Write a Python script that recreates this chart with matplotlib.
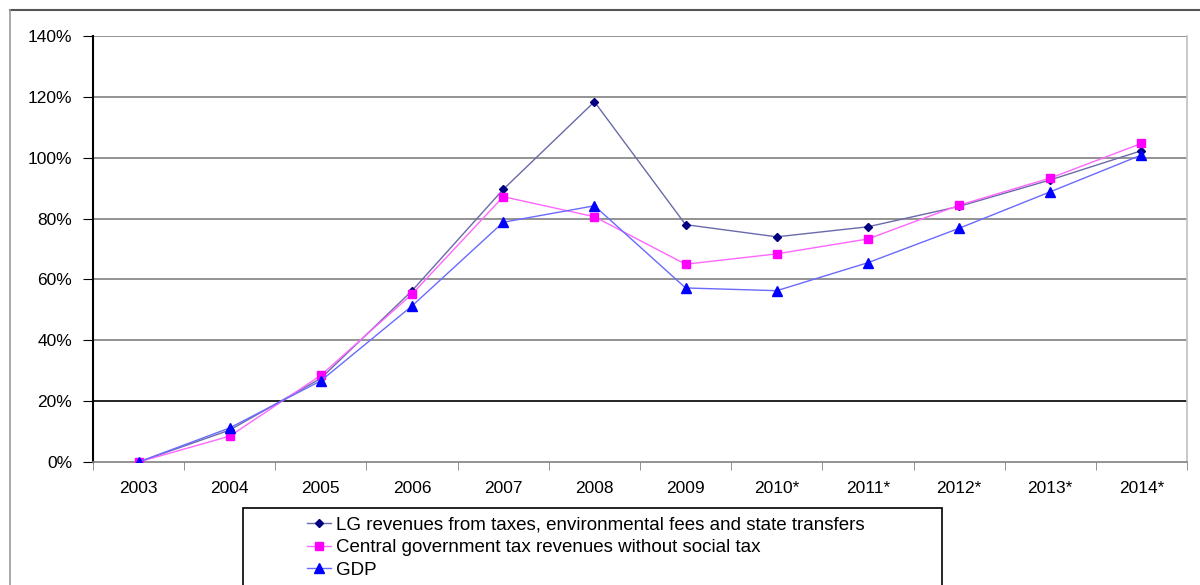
import matplotlib
matplotlib.use("Agg")
import matplotlib.pyplot as plt
from matplotlib.patches import Rectangle
from matplotlib.lines import Line2D
import numpy as np

plt.rcParams['font.family'] = ['Liberation Sans', 'DejaVu Sans']

# data (% growth vs 2003)
years = ["2003", "2004", "2005", "2006", "2007", "2008", "2009",
         "2010*", "2011*", "2012*", "2013*", "2014*"]
lg_revenues = [0, 10.5, 27.5, 56.3, 89.6, 118.4, 78.0, 74.0, 77.3, 84.0, 92.7, 102.3]
central_tax = [0, 8.5, 28.5, 55.2, 87.2, 80.6, 65.0, 68.4, 73.3, 84.4, 93.3, 104.7]
gdp = [0, 11.2, 26.7, 51.3, 78.8, 84.2, 57.2, 56.3, 65.5, 76.8, 88.8, 100.9]

labels = ["LG revenues from taxes, environmental fees and state transfers",
          "Central government tax revenues without social tax",
          "GDP"]
yticks = [0, 20, 40, 60, 80, 100, 120, 140]

fig = plt.figure(figsize=(12, 5.85), dpi=100)
ax = fig.add_axes([93 / 1200, 1 - 462 / 585, (1187 - 93) / 1200, (462 - 36) / 585])

x = np.arange(len(years))
ax.plot(x, lg_revenues, color="#6a6aaa", lw=1.0, marker="D", ms=4.5,
        mfc="#000080", mec="#000080", zorder=3)
ax.plot(x, central_tax, color="#ff66ff", lw=1.0, marker="s", ms=6,
        mfc="#ff00ff", mec="#ff00ff", zorder=3)
ax.plot(x, gdp, color="#6a6aff", lw=1.0, marker="^", ms=6.5,
        mfc="#0000ff", mec="#0000ff", zorder=3)

ax.set_xlim(-0.5, len(years) - 0.5)
ax.set_ylim(0, 140)

# horizontal gridlines
for v in yticks[1:]:
    c = "#000000" if v == 20 else "#808080"
    ax.axhline(v, color=c, lw=1.2, zorder=1)

ax.set_yticks(yticks)
ax.set_yticklabels([f"{v}%" for v in yticks], fontsize=12.5)
ax.set_xticks(x)
ax.set_xticklabels(years, fontsize=12.5)
ax.set_xticks(np.arange(-0.5, len(years)), minor=True)
ax.tick_params(axis="x", which="major", length=0, pad=14)
ax.tick_params(axis="x", which="minor", length=6, color="#808080", direction="out")
ax.tick_params(axis="y", length=7, color="#000000", pad=8)

ax.spines["top"].set_visible(False)
ax.spines["left"].set_color("#000000")
ax.spines["left"].set_linewidth(1.5)
ax.spines["bottom"].set_color("#808080")
ax.spines["bottom"].set_linewidth(1.2)
ax.spines["right"].set_color("#c0c0c0")
ax.spines["right"].set_linewidth(1.2)

# outer chart frame (partly cut off in the reference)
fig.add_artist(Line2D([10 / 1200, 1.0], [1 - 10 / 585, 1 - 10 / 585],
                      color="#555555", lw=1.5))
fig.add_artist(Line2D([10 / 1200, 10 / 1200], [0, 1 - 10 / 585],
                      color="#999999", lw=1.2))

# legend box that runs off the bottom edge
fig.add_artist(Rectangle((243 / 1200, -0.05), (942 - 243) / 1200, 0.05 + 1 - 508 / 585,
                         transform=fig.transFigure, fill=False,
                         edgecolor="#000000", lw=1.2))
handles = [
    Line2D([], [], color="#6a6aaa", lw=1.0, marker="D", ms=4.5, mfc="#000080", mec="#000080"),
    Line2D([], [], color="#ff66ff", lw=1.0, marker="s", ms=6, mfc="#ff00ff", mec="#ff00ff"),
    Line2D([], [], color="#6a6aff", lw=1.0, marker="^", ms=6.5, mfc="#0000ff", mec="#0000ff"),
]
fig.legend(handles, labels, loc="upper left", bbox_to_anchor=(298 / 1200, 1 - 507 / 585),
           frameon=False, fontsize=13.5, handlelength=1.25, handletextpad=0.3,
           labelspacing=0.3, borderpad=0)

fig.savefig("out.png", dpi=100)
